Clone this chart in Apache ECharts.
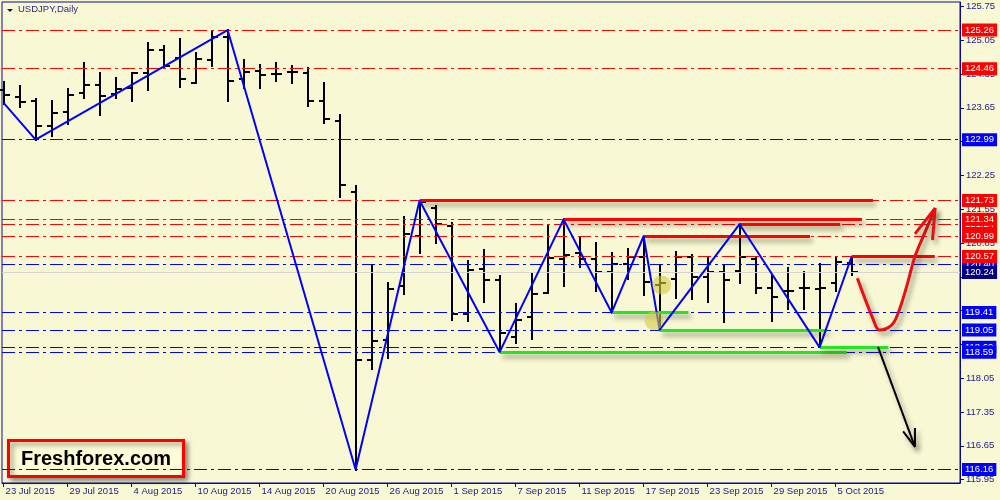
<!DOCTYPE html>
<html><head><meta charset="utf-8">
<script src="https://cdn.jsdelivr.net/npm/echarts@6/dist/echarts.min.js"></script>
<style>html,body{margin:0;padding:0;background:#F8F8D4}#c{width:1000px;height:500px}</style>
</head><body><div id="c"></div>
<script>
const dates = ['23 Jul 2015','24 Jul 2015','27 Jul 2015','28 Jul 2015','29 Jul 2015','30 Jul 2015','31 Jul 2015',
'3 Aug 2015','4 Aug 2015','5 Aug 2015','6 Aug 2015','7 Aug 2015','10 Aug 2015','11 Aug 2015','12 Aug 2015','13 Aug 2015','14 Aug 2015',
'17 Aug 2015','18 Aug 2015','19 Aug 2015','20 Aug 2015','21 Aug 2015','24 Aug 2015','25 Aug 2015','26 Aug 2015','27 Aug 2015','28 Aug 2015',
'31 Aug 2015','1 Sep 2015','2 Sep 2015','3 Sep 2015','4 Sep 2015','7 Sep 2015','8 Sep 2015','9 Sep 2015','10 Sep 2015','11 Sep 2015',
'14 Sep 2015','15 Sep 2015','16 Sep 2015','17 Sep 2015','18 Sep 2015','21 Sep 2015','22 Sep 2015','23 Sep 2015','24 Sep 2015','25 Sep 2015',
'28 Sep 2015','29 Sep 2015','30 Sep 2015','1 Oct 2015','2 Oct 2015','5 Oct 2015','6 Oct 2015'];
const xTickIdx = [0,4,8,12,16,20,24,28,32,36,40,44,48,52];
const yTicks = [125.75,125.05,124.35,123.65,122.95,122.25,121.55,120.85,120.15,119.45,118.75,118.05,117.35,116.65,115.95];

const open  = [124.02,123.87,123.78,123.27,123.56,123.96,124.13,123.93,124.05,124.38,124.85,124.69,124.17,124.64,125.12,124.24,124.42,124.35,124.40,124.38,123.78,123.38,121.90,118.43,118.84,119.96,121.00,121.58,121.21,119.39,120.31,120.08,118.90,119.31,119.81,120.52,120.64,120.52,120.24,120.41,120.57,119.98,120.10,120.55,120.15,120.26,120.27,120.52,119.92,119.86,119.91,119.90,120.02,120.44];
const high  = [124.18,124.10,123.83,123.79,124.04,124.57,124.36,124.26,124.38,125.00,124.93,125.07,124.78,125.21,125.26,124.64,124.54,124.57,124.51,124.47,124.16,123.50,122.03,120.39,120.02,121.39,121.73,121.62,121.26,120.48,120.71,120.17,119.58,120.22,121.20,121.34,120.98,120.84,120.65,120.72,120.99,120.39,120.66,120.60,120.55,120.39,121.24,120.57,120.17,120.34,120.26,120.41,120.55,120.57];
const low   = [123.73,123.67,122.99,123.07,123.32,123.86,123.51,123.85,123.78,124.01,124.50,124.09,124.17,124.51,123.78,124.05,124.05,124.21,124.17,123.69,123.33,121.81,116.16,118.24,118.47,119.79,120.64,120.86,119.26,119.23,119.63,118.59,118.79,118.86,119.81,119.97,120.36,119.86,119.41,120.10,119.77,119.05,119.72,119.69,119.63,119.22,120.02,119.81,119.24,119.48,119.48,118.69,119.86,120.19];
const close = [123.91,123.77,123.27,123.55,123.92,124.13,123.90,124.03,124.36,124.85,124.51,124.25,124.67,125.12,124.20,124.40,124.33,124.35,124.40,123.80,123.42,122.06,118.43,118.82,119.90,121.03,121.70,121.24,119.39,120.30,120.08,118.99,119.26,119.79,120.53,120.60,120.52,120.24,120.41,120.55,120.04,120.02,120.55,120.15,120.26,120.08,120.55,119.92,119.74,119.86,119.91,119.92,120.45,120.24];

const zigzag = [[0,123.75],[2,122.99],[14,125.26],[22,116.16],[26,121.73],[31,118.59],[35,121.34],[38,119.41],[40,120.99],[41,119.05],[46,121.24],[51,118.69],[53,120.57]];
const blueLevels = [122.99,119.41,119.05,118.69,118.59,116.16,120.40];
const redLevels = [125.26,124.46,121.73,121.24,121.34,120.99,120.57];
const bidLevel = 120.24;
const resistance = [[26,54.34,121.73],[35,53.65,121.34],[46,52.29,121.24],[40,50.4,120.99],[53,58.2,120.57]];
const support = [[38,42.8,119.41],[41,51.45,119.05],[31,52.7,118.59],[51,55.3,118.69]];
const redPath = [[53.36,120.12],[54.36,119.26],[54.73,119.05],[55.5,119.15],[55.9,119.39],[56.44,119.95],[56.96,120.57],[57.6,121.08],[58.22,121.57]];
const redHead = [[56.96,121.04],[58.22,121.57],[58.06,120.91]];
const blackPath = [[54.65,118.70],[56.96,116.63]];
const blackHead = [[56.22,116.95],[56.96,116.63],[56.96,117.02]];
const markers = [[41.13,119.98],[40.65,119.24]];

const FONT = 'Liberation Sans';
const AX = '#0a0a9a';
const TXT = '#20208a';
const shadow = {shadowColor:'rgba(40,40,20,0.45)', shadowBlur:5, shadowOffsetX:3, shadowOffsetY:4};
const dashDot = [13,4,3,4];

const chart = echarts.init(document.getElementById('c'));
const ohlc = dates.map((d,i)=>[i, open[i], high[i], low[i], close[i]]);

function levelSeries(vals, color, bg, z) {
  return {
    type:'line', data:[], z:z, silent:true, animation:false,
    markLine:{
      silent:true, symbol:['none','none'], animation:false,
      lineStyle:{color:color, width:1, type:dashDot},
      label:{show:true, position:'end', distance:2, formatter:p=>p.value.toFixed(2),
        color:'#fff', backgroundColor:bg, padding:[2,3,1,3], fontFamily:FONT, fontSize:9.5},
      emphasis:{disabled:true},
      data: vals.map(v=>({yAxis:v}))
    }
  };
}
function segSeries(segs, color, z) {
  return {
    type:'line', data:[], z:z, silent:true, animation:false,
    markLine:{silent:true, symbol:['none','none'], animation:false, label:{show:false},
      lineStyle:Object.assign({color:color, width:3, type:'solid'}, shadow),
      emphasis:{disabled:true},
      data: segs.map(s=>[{coord:[s[0],s[2]]},{coord:[s[1],s[2]]}])
    }
  };
}
function pathSeries(pts, color, w, smooth, z) {
  return {type:'line', data:pts, z:z, smooth:smooth, showSymbol:false, silent:true, animation:false,
    lineStyle:Object.assign({color:color, width:w}, shadow)};
}

chart.setOption({
  backgroundColor:'#F8F8D4',
  animation:false,
  grid:{left:2, right:40, top:2, bottom:17, show:true, borderColor:AX, borderWidth:1, backgroundColor:'#F8F8D4'},
  xAxis:{type:'value', min:-0.1, max:59.775, position:'bottom',
    axisLine:{show:true, onZero:false, lineStyle:{color:AX}},
    splitLine:{show:false},
    axisTick:{show:true, length:4, customValues:xTickIdx, lineStyle:{color:AX}},
    axisLabel:{customValues:xTickIdx, formatter:v=>dates[Math.round(v)], align:'left', margin:3,
      color:TXT, fontFamily:FONT, fontSize:9.5, padding:[0,0,0,2]}
  },
  yAxis:{type:'value', min:115.881, max:125.84, position:'right',
    axisLine:{show:true, onZero:false, lineStyle:{color:AX}},
    splitLine:{show:false},
    axisTick:{show:true, inside:false, length:4, customValues:yTicks, lineStyle:{color:AX}},
    axisLabel:{customValues:yTicks, formatter:v=>v.toFixed(2), margin:6,
      color:TXT, fontFamily:FONT, fontSize:9.5}
  },
  graphic:[
    {type:'polygon', shape:{points:[[7,9],[13,9],[10,12]]}, style:{fill:'#10106a'}},
    {type:'text', left:18, top:4, style:{text:'USDJPY,Daily', fill:'#2a2a8a', font:'9.5px "Liberation Sans"'}},
    {type:'group', left:7, top:439, children:[
      {type:'rect', shape:{x:0,y:0,width:175,height:36}, style:{fill:'#FCFCD6', stroke:'#ff0000', lineWidth:3,
        shadowColor:'rgba(0,0,0,0.4)', shadowBlur:5, shadowOffsetX:3, shadowOffsetY:3}},
      {type:'text', x:87.5, y:19, style:{text:'Freshforex.com', fill:'#000', font:'bold 20px "Liberation Sans"', align:'center', verticalAlign:'middle'}}
    ]}
  ],
  series:[
    levelSeries(blueLevels, '#0000ff', '#0000ff', 1),
    levelSeries(redLevels, '#ff0000', '#ff0000', 2),
    {type:'line', data:[], z:3, silent:true, animation:false,
      markLine:{silent:true, symbol:['none','none'], animation:false,
        lineStyle:{color:'#d4d4d4', width:1, type:'solid'},
        label:{show:true, position:'end', distance:2, formatter:p=>p.value.toFixed(2),
          color:'#fff', backgroundColor:'#000080', padding:[2,3,1,3], fontFamily:FONT, fontSize:9.5},
        emphasis:{disabled:true},
        data:[{yAxis:bidLevel}]}},
    {type:'custom', z:4, silent:true, animation:false, data:ohlc, encode:{x:0, y:[1,2,3,4]},
      renderItem:function(params, api){
        const i = api.value(0);
        const o = api.coord([i, api.value(1)]), h = api.coord([i, api.value(2)]),
              l = api.coord([i, api.value(3)]), c = api.coord([i, api.value(4)]);
        const x = Math.round(o[0]);
        const st = {stroke:'#000', lineWidth:2};
        return {type:'group', children:[
          {type:'line', shape:{x1:x, y1:Math.round(h[1])-1, x2:x, y2:Math.round(l[1])+1}, style:st},
          {type:'line', shape:{x1:x-5, y1:Math.round(o[1]), x2:x, y2:Math.round(o[1])}, style:st},
          {type:'line', shape:{x1:x, y1:Math.round(c[1]), x2:x+6, y2:Math.round(c[1])}, style:st}
        ]};
      }},
    {type:'line', data:zigzag, z:5, showSymbol:false, silent:true, animation:false,
      lineStyle:{color:'#0000ff', width:2}},
    segSeries(resistance, '#ff0000', 6),
    segSeries(support, '#22e622', 6),
    {type:'scatter', data:markers, z:7, symbolSize:19, silent:true, animation:false,
      itemStyle:{color:'rgba(214,204,70,0.75)'}},
    pathSeries(redPath, '#e81010', 3, 0.35, 8),
    pathSeries(redHead, '#e81010', 3, false, 8),
    pathSeries(blackPath, '#000', 2, false, 8),
    pathSeries(blackHead, '#000', 2, false, 8)
  ]
});
</script></body></html>
